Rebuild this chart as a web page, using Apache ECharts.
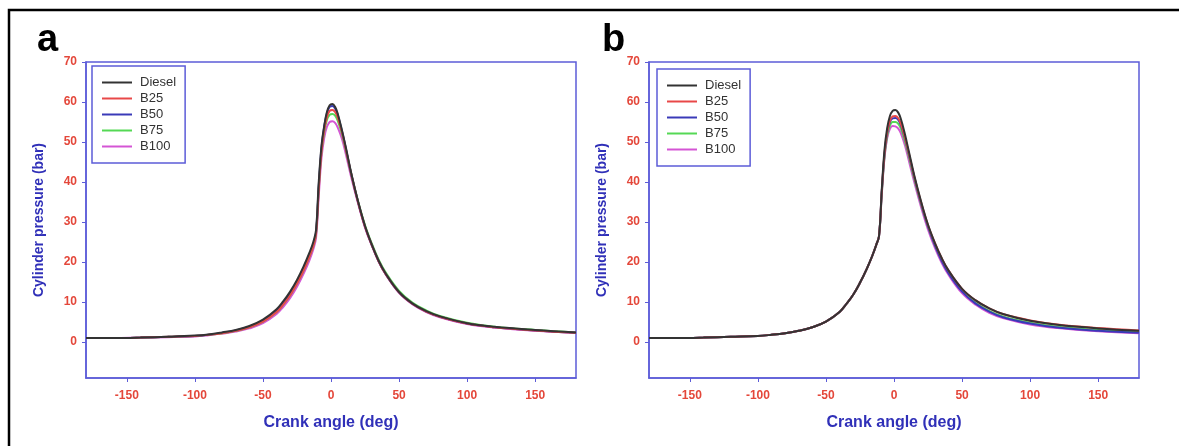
<!DOCTYPE html>
<html>
<head>
    <meta charset="utf-8">
    <title>Cylinder pressure vs crank angle</title>
    <script src="https://cdn.jsdelivr.net/npm/echarts@6/dist/echarts.min.js"></script>
    <style>
        html, body { margin: 0; padding: 0; background: #fff; }
        #chart { width: 1179px; height: 446px; }
    </style>
</head>
<body>
    <div id="chart"></div>

    <script>
        // crank angle (deg), shared by every curve
        const angles = [-180,-160,-140,-120,-100,-90,-80,-70,-60,-50,-40,-35,-30,-25,-20,-16,-13,-11,-9,-7,-5,-3,-1,1,3,5,8,11,15,20,25,30,35,40,50,60,70,80,100,120,150,180];

        // panel a (bar)
        const dieselA = [1.0,1.0,1.1,1.3,1.6,1.9,2.4,3.0,4.0,5.6,8.2,10.2,12.6,15.5,19.0,22.2,25.0,28.0,40.0,49.0,54.0,57.5,59.2,59.5,58.8,57.0,53.0,48.5,42.0,35.0,29.0,24.3,20.3,17.2,12.5,9.6,7.7,6.4,4.7,3.8,3.0,2.4];
        const b25A    = [1.0,1.0,1.1,1.3,1.5,1.8,2.2,2.8,3.7,5.1,7.5,9.4,11.7,14.6,18.0,21.2,24.0,27.0,38.0,47.5,53.0,56.2,57.8,58.0,57.5,56.0,52.5,48.0,41.8,34.8,28.8,24.2,20.2,17.1,12.4,9.5,7.6,6.3,4.6,3.7,2.9,2.3];
        const b50A    = [1.0,1.0,1.1,1.3,1.5,1.8,2.3,2.9,3.8,5.3,7.8,9.7,12.0,14.9,18.4,21.6,24.4,27.4,39.0,48.5,53.8,57.2,58.8,59.0,58.4,56.7,52.8,48.2,41.8,34.8,28.8,24.2,20.2,17.1,12.4,9.5,7.6,6.3,4.6,3.7,2.9,2.3];
        const b75A    = [1.0,1.0,1.1,1.3,1.5,1.8,2.2,2.8,3.7,5.1,7.5,9.4,11.7,14.6,18.0,21.2,24.0,27.0,38.5,47.5,52.5,55.5,56.8,57.0,56.6,55.3,52.0,47.8,41.8,35.0,29.2,24.6,20.6,17.5,12.8,9.8,7.9,6.5,4.8,3.8,3.0,2.4];
        const b100A   = [1.0,1.0,1.1,1.2,1.4,1.7,2.1,2.6,3.4,4.7,7.0,8.8,11.0,13.8,17.2,20.3,23.2,26.0,36.5,46.0,51.0,53.8,55.0,55.2,54.8,53.6,50.8,46.8,41.0,34.5,28.6,24.1,20.1,17.0,12.3,9.4,7.5,6.2,4.5,3.6,2.8,2.3];

        // panel b (bar)
        const dieselB = [1.0,1.0,1.1,1.3,1.5,1.8,2.2,2.8,3.7,5.1,7.5,9.5,11.8,14.8,18.3,21.5,24.3,26.5,38.0,48.0,53.5,56.5,57.8,58.0,57.4,55.8,52.0,47.5,41.5,35.0,29.3,24.8,21.0,17.9,13.3,10.4,8.4,7.0,5.3,4.3,3.4,2.8];
        const b25B    = [1.0,1.0,1.1,1.3,1.5,1.8,2.2,2.8,3.7,5.1,7.5,9.5,11.8,14.8,18.3,21.5,24.3,26.5,37.5,47.0,52.5,55.3,56.4,56.5,56.0,54.6,51.2,47.0,41.2,34.8,29.2,24.8,21.0,17.9,13.3,10.4,8.4,7.0,5.4,4.4,3.5,2.9];
        const b50B    = [1.0,1.0,1.1,1.3,1.5,1.8,2.2,2.8,3.7,5.1,7.5,9.5,11.8,14.8,18.3,21.5,24.3,26.5,37.5,46.8,52.2,55.0,55.9,56.0,55.6,54.3,51.0,46.8,41.0,34.5,28.8,24.2,20.3,17.2,12.6,9.6,7.6,6.2,4.6,3.6,2.8,2.3];
        const b75B    = [1.0,1.0,1.1,1.3,1.5,1.8,2.2,2.8,3.7,5.1,7.5,9.5,11.8,14.8,18.3,21.5,24.3,26.5,37.0,46.3,51.5,54.1,55.0,55.0,54.6,53.4,50.2,46.2,40.6,34.3,28.8,24.3,20.5,17.4,12.8,9.8,7.8,6.4,4.8,3.8,3.0,2.5];
        const b100B   = [1.0,1.0,1.1,1.3,1.5,1.8,2.2,2.8,3.7,5.1,7.5,9.5,11.8,14.8,18.3,21.5,24.3,26.5,36.8,46.0,51.0,53.3,54.0,53.9,53.4,52.2,49.2,45.2,39.8,33.6,28.1,23.6,19.8,16.8,12.2,9.3,7.3,6.0,4.4,3.5,2.7,2.2];

        const fuels = ['Diesel', 'B25', 'B50', 'B75', 'B100'];
        const xTicks = [-150, -100, -50, 0, 50, 100, 150];
        const yTicks = [0, 10, 20, 30, 40, 50, 60, 70];

        const colors = { Diesel: '#333333', B25: '#e84848', B50: '#3a3ab8', B75: '#55d855', B100: '#d455d4' };
        const axisBlue = '#5c5cd8';
        const labelRed = '#e4473a';
        const titleBlue = '#3030b8';

        const panelA = { Diesel: dieselA, B25: b25A, B50: b50A, B75: b75A, B100: b100A };
        const panelB = { Diesel: dieselB, B25: b25B, B50: b50B, B75: b75B, B100: b100B };

        function xAxisFor(grid) {
            return {
                gridIndex: grid, type: 'value', min: -180, max: 180,
                name: 'Crank angle (deg)', nameLocation: 'middle', nameGap: 37,
                nameTextStyle: { color: titleBlue, fontWeight: 'bold', fontSize: 16, fontFamily: 'Arial' },
                axisLine: { onZero: false, lineStyle: { color: axisBlue, width: 1.5 } },
                axisTick: { show: true, length: 4, customValues: xTicks, lineStyle: { color: axisBlue } },
                axisLabel: { customValues: xTicks, color: labelRed, fontWeight: 'bold', fontSize: 12, fontFamily: 'Arial', margin: 12 },
                splitLine: { show: false }
            };
        }
        function yAxisFor(grid) {
            return {
                gridIndex: grid, type: 'value', min: -9, max: 70,
                name: 'Cylinder pressure (bar)', nameLocation: 'middle', nameGap: 40,
                nameTextStyle: { color: titleBlue, fontWeight: 'bold', fontSize: 14, fontFamily: 'Arial' },
                axisLine: { onZero: false, lineStyle: { color: axisBlue, width: 1.5 } },
                axisTick: { show: true, length: 4, customValues: yTicks, lineStyle: { color: axisBlue } },
                axisLabel: { customValues: yTicks, color: labelRed, fontWeight: 'bold', fontSize: 12, fontFamily: 'Arial', margin: 9 },
                splitLine: { show: false }
            };
        }
        function legendFor(left, top) {
            return {
                data: fuels, orient: 'vertical', left: left, top: top,
                icon: 'rect', itemWidth: 30, itemHeight: 2, itemGap: 3,
                padding: [10, 9, 10, 10],
                borderColor: axisBlue, borderWidth: 1.5,
                textStyle: { color: '#333', fontSize: 13, fontFamily: 'Arial', lineHeight: 13, padding: [0, 0, 0, 3] }
            };
        }

        const series = [];
        [panelA, panelB].forEach(function (panel, idx) {
            // draw B100 first so Diesel ends up on top
            fuels.slice().reverse().forEach(function (name) {
                series.push({
                    name: name, type: 'line', xAxisIndex: idx, yAxisIndex: idx,
                    data: angles.map(function (a, i) { return [a, panel[name][i]]; }),
                    showSymbol: false, symbol: 'none',
                    smooth: 0.4,
                    itemStyle: { color: colors[name] },
                    lineStyle: { color: colors[name], width: 2 }
                });
            });
        });

        const chart = echarts.init(document.getElementById('chart'));
        chart.setOption({
            animation: false,
            backgroundColor: '#fff',
            grid: [
                { left: 86, top: 62, width: 490, height: 316, show: true, borderColor: axisBlue, borderWidth: 1.5 },
                { left: 649, top: 62, width: 490, height: 316, show: true, borderColor: axisBlue, borderWidth: 1.5 }
            ],
            xAxis: [xAxisFor(0), xAxisFor(1)],
            yAxis: [yAxisFor(0), yAxisFor(1)],
            legend: [legendFor(92, 66), legendFor(657, 69)],
            graphic: [
                { type: 'rect', shape: { x: 9, y: 10, width: 1200, height: 500 }, style: { fill: 'none', stroke: '#000', lineWidth: 2.5 }, silent: true },
                { type: 'text', x: 37, y: 22, style: { text: 'a', font: 'bold 38px Arial', fill: '#000' } },
                { type: 'text', x: 602, y: 22, style: { text: 'b', font: 'bold 38px Arial', fill: '#000' } }
            ],
            series: series
        });
    </script>
</body>
</html>
